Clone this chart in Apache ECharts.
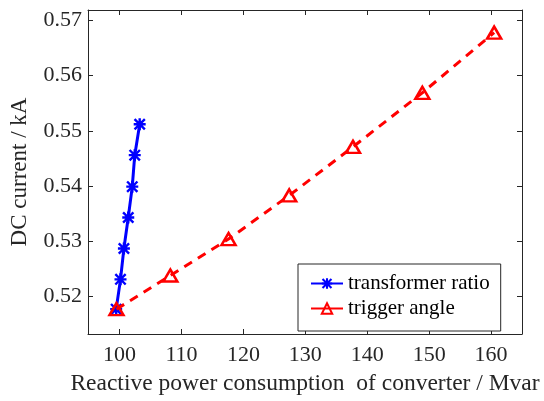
<!DOCTYPE html>
<html>
<head>
<meta charset="utf-8">
<script src="https://cdn.jsdelivr.net/npm/echarts@6/dist/echarts.min.js"></script>
<style>
  html, body { margin: 0; padding: 0; background: #fff; }
  #main { width: 544px; height: 401px; }
</style>
</head>
<body>
<div id="main"></div>
<script>
// data
var ratioX = [99.45, 100.15, 100.7, 101.4, 102.05, 102.45, 103.25];
var ratioY = [0.5177, 0.5231, 0.5287, 0.5343, 0.5399, 0.5456, 0.5512];
var angleX = [99.5, 108.2, 117.6, 127.4, 137.7, 148.9, 160.5];
var angleY = [0.5177, 0.5238, 0.5304, 0.5383, 0.5471, 0.5569, 0.5678];
var xTicks = [100, 110, 120, 130, 140, 150, 160];
var yTicks = [0.52, 0.53, 0.54, 0.55, 0.56, 0.57];

function pairs(xs, ys) {
	var out = [];
	for (var i = 0; i < xs.length; i++) out.push([xs[i], ys[i]]);
	return out;
}

// asterisk marker (four crossing bars)
var starPath = 'path://M0 8H20V12H0Z M8 0H12V20H8Z ' +
	'M2.8 0L20 17.2L17.2 20L0 2.8Z M17.2 0L20 2.8L2.8 20L0 17.2Z';

var font = 'Liberation Serif';
var axisColor = '#262626';

var myChart = echarts.init(document.getElementById('main'));

var option = {
	animation: false,
	grid: { left: 86, right: 22, top: 10, bottom: 63 },
	legend: {
		orient: 'vertical',
		left: 298,
		top: 264,
		padding: [9, 11, 12, 12],
		itemGap: 4,
		itemWidth: 32,
		itemHeight: 13,
		backgroundColor: '#fff',
		borderColor: axisColor,
		borderWidth: 1,
		borderRadius: 0,
		textStyle: { fontFamily: font, fontSize: 21, color: '#000' },
		data: [
			{ name: 'transformer ratio' },
			{ name: 'trigger angle', lineStyle: { type: 'solid' } }
		]
	},
	xAxis: [{
		type: 'value',
		min: 94.9,
		max: 165,
		name: 'Reactive power consumption  of converter / Mvar',
		nameLocation: 'middle',
		nameGap: 38,
		nameTextStyle: { fontFamily: font, fontSize: 23.5, color: '#262626' },
		axisLine: { show: true, lineStyle: { color: axisColor, width: 1 } },
		axisTick: { inside: true, length: 5, customValues: xTicks, lineStyle: { color: axisColor } },
		axisLabel: { customValues: xTicks, margin: 10, fontFamily: font, fontSize: 22, color: '#262626' },
		splitLine: { show: false }
	}, {
		type: 'value',
		position: 'top',
		min: 94.9,
		max: 165,
		axisLine: { show: true, lineStyle: { color: axisColor, width: 1 } },
		axisTick: { inside: true, length: 5, customValues: xTicks, lineStyle: { color: axisColor } },
		axisLabel: { show: false },
		splitLine: { show: false }
	}],
	yAxis: [{
		type: 'value',
		min: 0.5132,
		max: 0.5719,
		name: 'DC current / kA',
		nameLocation: 'middle',
		nameGap: 57,
		nameTextStyle: { fontFamily: font, fontSize: 23, color: '#262626' },
		axisLine: { show: true, lineStyle: { color: axisColor, width: 1 } },
		axisTick: { inside: true, length: 5, customValues: yTicks, lineStyle: { color: axisColor } },
		axisLabel: {
			customValues: yTicks, margin: 6, fontFamily: font, fontSize: 22, color: '#262626',
			formatter: function (v) { return v.toFixed(2); }
		},
		splitLine: { show: false }
	}, {
		type: 'value',
		position: 'right',
		min: 0.5132,
		max: 0.5719,
		axisLine: { show: true, lineStyle: { color: axisColor, width: 1 } },
		axisTick: { inside: true, length: 5, customValues: yTicks, lineStyle: { color: axisColor } },
		axisLabel: { show: false },
		splitLine: { show: false }
	}],
	series: [{
		name: 'transformer ratio',
		type: 'line',
		data: pairs(ratioX, ratioY),
		symbol: starPath,
		symbolSize: 12,
		showAllSymbol: true,
		lineStyle: { color: '#0000ff', width: 3 },
		itemStyle: { color: '#0000ff' },
		z: 3
	}, {
		name: 'trigger angle',
		type: 'line',
		data: pairs(angleX, angleY),
		symbol: 'triangle',
		symbolSize: [14, 12],
		showAllSymbol: true,
		lineStyle: { color: '#ff0000', width: 3, type: [9, 7] },
		itemStyle: { color: 'rgba(255,255,255,0)', borderColor: '#ff0000', borderWidth: 2.5 },
		z: 4
	}]
};
myChart.setOption(option);
</script>
</body>
</html>
